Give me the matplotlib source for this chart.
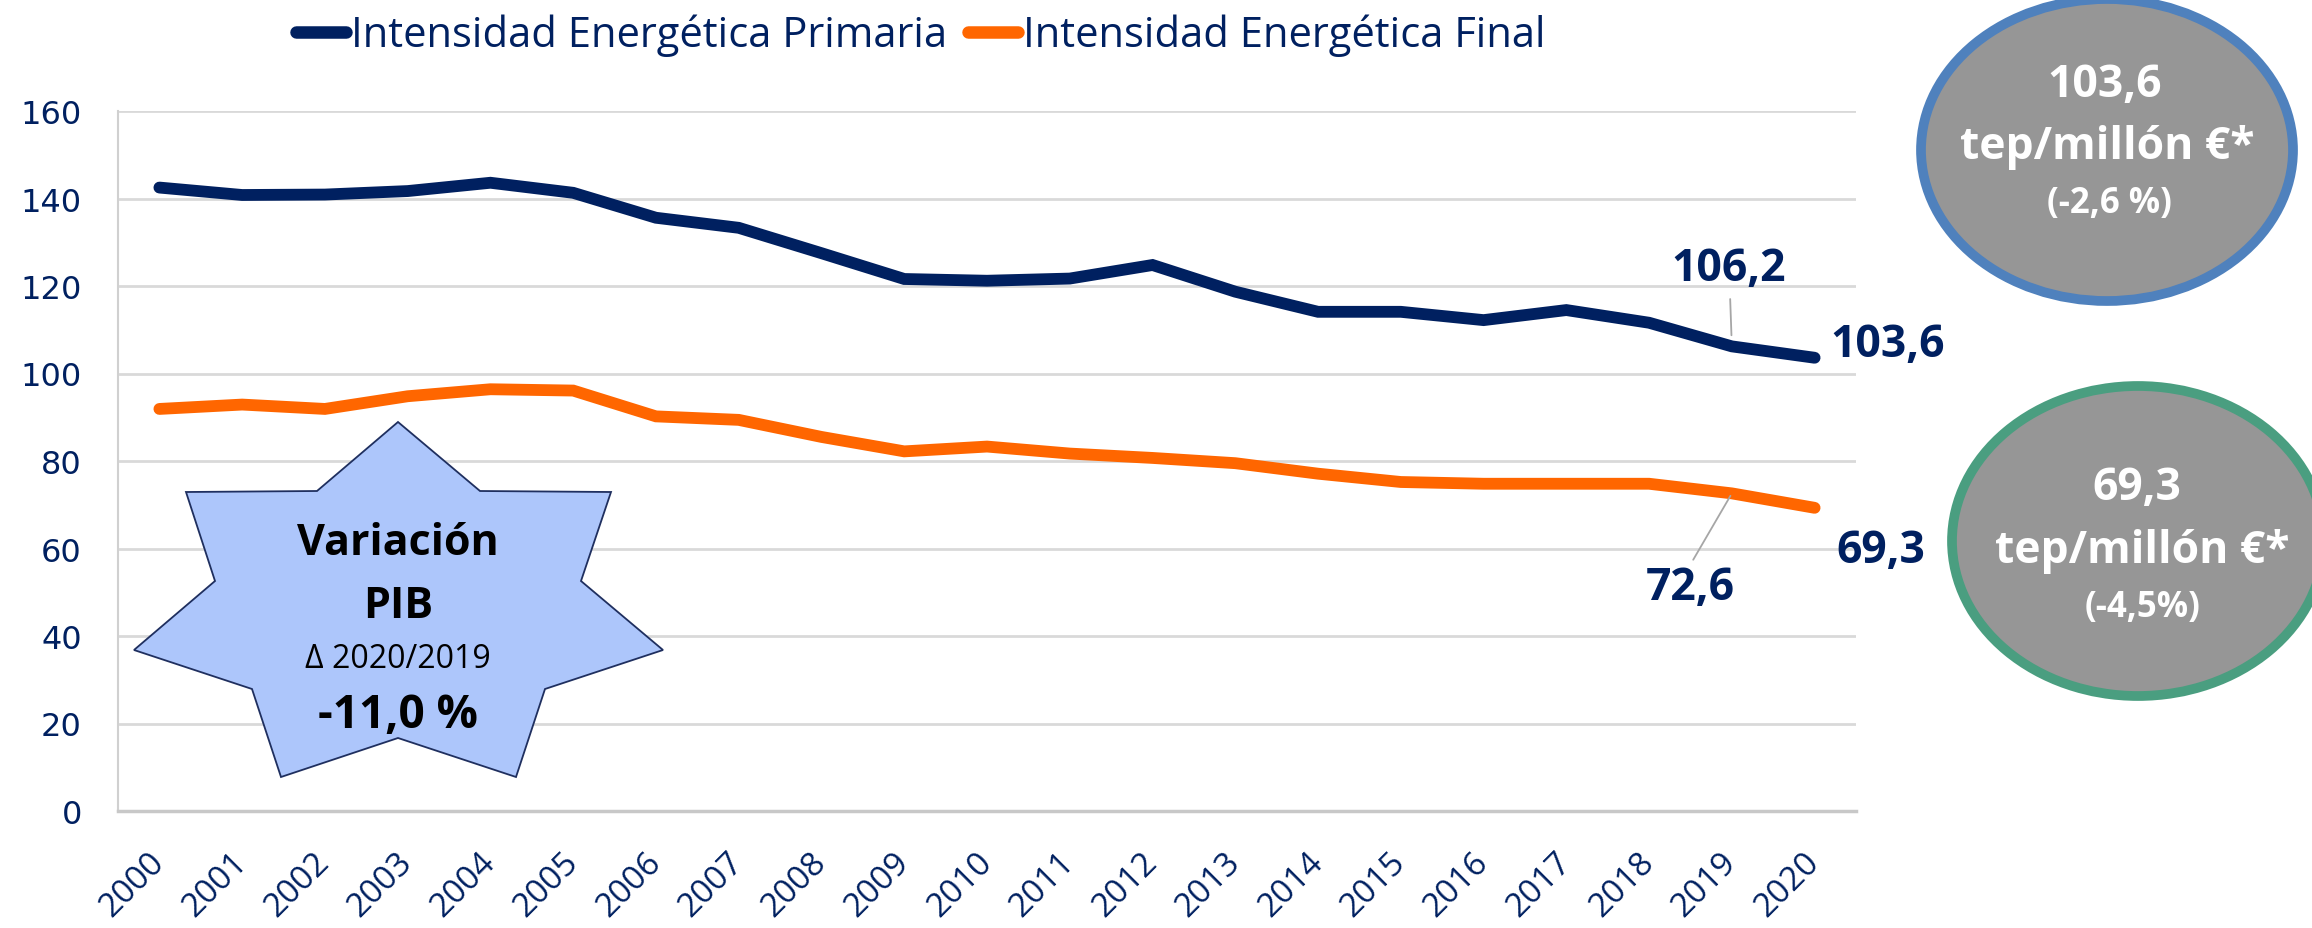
import matplotlib
matplotlib.use("Agg")
import matplotlib.pyplot as plt
from matplotlib.patches import Polygon, Ellipse
from matplotlib.lines import Line2D

# ---------------- data ----------------
years = [str(y) for y in range(2000, 2021)]
primaria = [142.5, 140.8, 140.9, 141.7, 143.6, 141.3, 135.6, 133.3, 127.5, 121.6, 121.2,
            121.7, 124.8, 118.7, 114.1, 114.1, 112.2, 114.5, 111.6, 106.2, 103.6]
final = [91.9, 92.9, 91.9, 94.8, 96.4, 96.1, 90.2, 89.4, 85.5, 82.2, 83.3,
         81.7, 80.7, 79.5, 77.1, 75.2, 74.8, 74.8, 74.8, 72.6, 69.3]
series_names = ["Intensidad Energética Primaria", "Intensidad Energética Final"]
yticks = [0, 20, 40, 60, 80, 100, 120, 140, 160]
star_lines = ["Variación", "PIB", "\u0394 2020/2019", "-11,0 %"]
ell1_lines = ["103,6", "tep/millón €*", "(-2,6 %)"]
ell2_lines = ["69,3", "tep/millón €*", "(-4,5%)"]

NAVY = "#002060"
ORANGE = "#FF6600"
W, H = 2312, 929

def fx(px):
    return px / W

def fy(py):
    return 1 - py / H

fig = plt.figure(figsize=(W / 100, H / 100), dpi=100)
ax = fig.add_axes([fx(118), fy(812), fx(1856) - fx(118), fy(112) - fy(812)])

x = list(range(len(years)))
l1, = ax.plot(x, primaria, color=NAVY, lw=8.5, solid_capstyle="round", solid_joinstyle="miter", zorder=3)
l2, = ax.plot(x, final, color=ORANGE, lw=8.5, solid_capstyle="round", solid_joinstyle="miter", zorder=3)

ax.set_xlim(-0.5, len(years) - 0.5)
ax.set_ylim(0, 160)
ax.set_yticks(yticks)
ax.set_yticklabels([str(v) for v in yticks], fontsize=23, color=NAVY, family="DejaVu Sans")
ax.set_xticks(x)
ax.set_xticklabels(years, rotation=45, ha="right", va="center", rotation_mode="anchor",
                   fontsize=24, color=NAVY, family="Open Sans")
ax.tick_params(axis="y", length=0, pad=26)
ax.tick_params(axis="x", length=0, pad=33)
ax.grid(axis="y", color="#D9D9D9", lw=2)
ax.set_axisbelow(True)
for s in ["top", "right"]:
    ax.spines[s].set_visible(False)
ax.spines["left"].set_color("#D0D0D0")
ax.spines["left"].set_linewidth(1.5)
ax.spines["bottom"].set_color("#C8C8C8")
ax.spines["bottom"].set_linewidth(2.5)

# legend
handles = [Line2D([0], [0], color=NAVY, lw=9, solid_capstyle="round"),
           Line2D([0], [0], color=ORANGE, lw=9, solid_capstyle="round")]
leg = fig.legend(handles, series_names, loc="center left", bbox_to_anchor=(fx(296), fy(36)),
                 ncol=2, frameon=False, handlelength=1.2, handletextpad=0.12, columnspacing=0.5,
                 borderpad=0, borderaxespad=0,
                 prop={"family": "Open Sans", "size": 30})
for t in leg.get_texts():
    t.set_color(NAVY)

# data labels
lab = dict(fontsize=32, fontweight="bold", color=NAVY, family="Open Sans")
gray_leader = dict(arrowstyle="-", color="#A6A6A6", lw=1.3, shrinkA=4, shrinkB=8)
i19, i20 = len(years) - 2, len(years) - 1
ax.annotate(f"{primaria[i19]:.1f}".replace(".", ","), xy=(i19, primaria[i19]),
            xytext=(-2, 48), textcoords="offset points", ha="center", va="baseline",
            arrowprops=gray_leader, **lab)
ax.annotate(f"{primaria[i20]:.1f}".replace(".", ","), xy=(i20, primaria[i20]),
            xytext=(11, 1), textcoords="offset points", ha="left", va="baseline", **lab)
ax.annotate(f"{final[i19]:.1f}".replace(".", ","), xy=(i19, final[i19]),
            xytext=(-30, -76), textcoords="offset points", ha="center", va="baseline",
            arrowprops=dict(arrowstyle="-", color="#A6A6A6", lw=1.3, shrinkA=2, shrinkB=2,
                            relpos=(0.5, 1.0)), **lab)
ax.annotate(f"{final[i20]:.1f}".replace(".", ","), xy=(i20, final[i20]),
            xytext=(16, -39), textcoords="offset points", ha="left", va="baseline", **lab)

# star (7 points)
star_px = [(398, 423), (480, 492), (611, 493), (581, 582), (663, 651), (545, 690),
           (516, 778), (398, 739), (281, 778), (252, 690), (134, 651), (215, 582),
           (186, 493), (317, 492)]
star = Polygon([(fx(a), fy(b)) for a, b in star_px], closed=True, transform=fig.transFigure,
               facecolor="#ADC6FB", edgecolor="#1F2F5F", lw=1.3, zorder=5)
fig.add_artist(star)
st_base = [555, 618, 668, 728]
st_size = [31, 31, 23, 33]
st_weight = ["bold", "bold", "normal", "bold"]
for s, b, sz, wgt in zip(star_lines, st_base, st_size, st_weight):
    fig.text(fx(398), fy(b), s, ha="center", va="baseline", fontsize=sz, fontweight=wgt,
             color="black", family="Open Sans", zorder=6)

# ellipses
e1 = Ellipse((fx(2107), fy(151)), fx(372) - fx(0), fy(0) - fy(302), transform=fig.transFigure,
             facecolor="#969696", edgecolor="#4F81BD", lw=7, zorder=5)
e2 = Ellipse((fx(2138), fy(542)), fx(372) - fx(0), fy(0) - fy(310), transform=fig.transFigure,
             facecolor="#969696", edgecolor="#4A9E80", lw=7, zorder=5)
fig.add_artist(e1)
fig.add_artist(e2)
for lines, cx, bases in [(ell1_lines, [2105, 2107, 2109], [97, 159, 213]),
                         (ell2_lines, [2137, 2142, 2143], [500, 563, 617])]:
    for s, c, b, sz in zip(lines, cx, bases, [32, 32, 25]):
        fig.text(fx(c), fy(b), s, ha="center", va="baseline", fontsize=sz, fontweight="bold",
                 color="white", family="Open Sans", zorder=6)

fig.savefig("out.png", dpi=100)
